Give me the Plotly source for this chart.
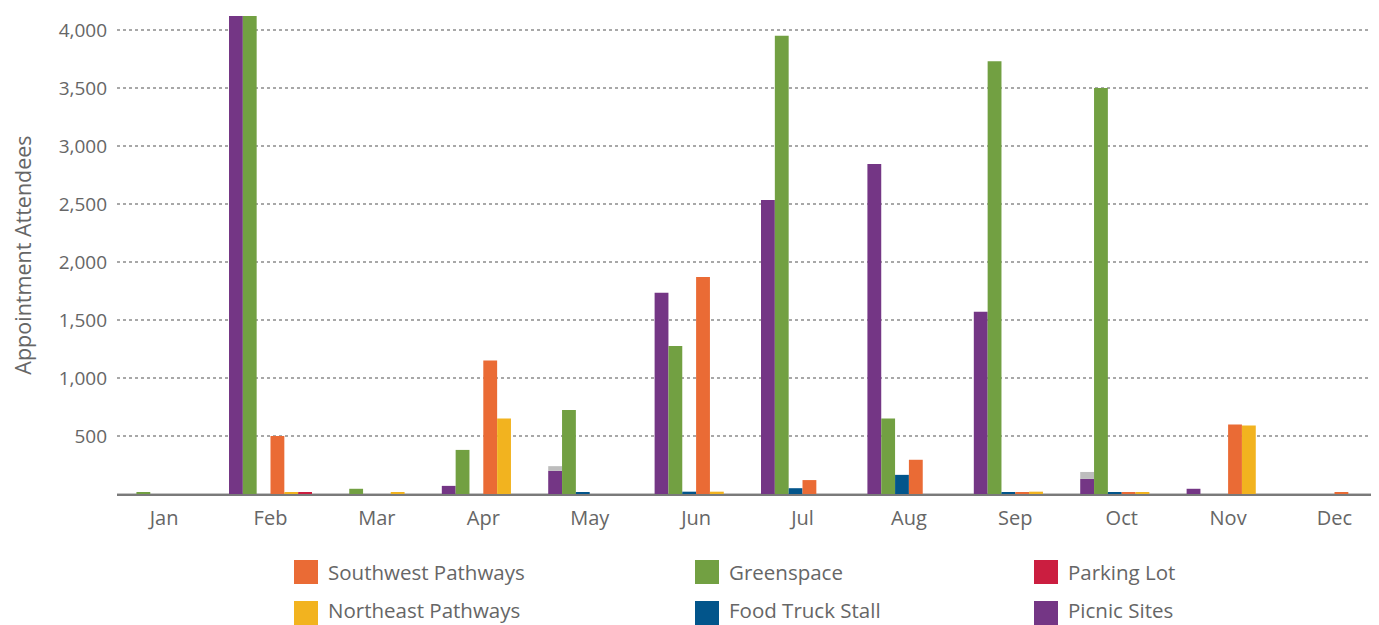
import plotly.graph_objects as go

months = ["Jan", "Feb", "Mar", "Apr", "May", "Jun", "Jul", "Aug", "Sep", "Oct", "Nov", "Dec"]

picnic_sites = [0, 4200, 0, 70, 200, 1735, 2535, 2845, 1570, 130, 45, 0]
other_grey = [0, 0, 0, 0, 40, 0, 0, 0, 0, 60, 0, 0]
greenspace = [15, 4200, 45, 380, 725, 1275, 3950, 650, 3730, 3500, 0, 0]
food_truck = [0, 0, 0, 0, 12, 20, 50, 165, 12, 12, 0, 0]
southwest = [0, 500, 0, 1150, 0, 1870, 120, 295, 12, 12, 600, 12]
northeast = [0, 12, 10, 650, 0, 20, 0, 0, 20, 10, 590, 0]
parking = [0, 15, 0, 0, 0, 0, 0, 0, 0, 0, 0, 0]

y_ticks = [500, 1000, 1500, 2000, 2500, 3000, 3500, 4000]

C_PURPLE = "#743685"
C_GREY = "#BDBDBD"
C_GREEN = "#72A042"
C_BLUE = "#02558B"
C_ORANGE = "#EA6B35"
C_YELLOW = "#F2B31F"
C_RED = "#CB1E40"

FONT = "Open Sans"
TXT = "#666666"

# page body has an 8px margin; work in absolute page pixels then convert
OFF = 8
W, H = 1379 - OFF, 625 - OFF
PLOT_L, PLOT_R, PLOT_T, PLOT_B = 117, 1376, 16, 494  # absolute page pixels
ML = PLOT_L - OFF
MR = W - (PLOT_R - OFF)
MT = PLOT_T - OFF
MB = H - (PLOT_B - OFF)
PW = PLOT_R - PLOT_L
PH = PLOT_B - PLOT_T

fig = go.Figure()

def add_bar(name, vals, color, og, base=None):
    fig.add_trace(go.Bar(
        x=months, y=vals, name=name, marker=dict(color=color, line=dict(width=0)),
        offsetgroup=og, base=base, showlegend=False, hoverinfo="x+y+name",
    ))

add_bar("Picnic Sites", picnic_sites, C_PURPLE, "1")
add_bar("Other", other_grey, C_GREY, "1", base=picnic_sites)
add_bar("Greenspace", greenspace, C_GREEN, "2")
add_bar("Food Truck Stall", food_truck, C_BLUE, "3")
add_bar("Southwest Pathways", southwest, C_ORANGE, "4")
add_bar("Northeast Pathways", northeast, C_YELLOW, "5")
add_bar("Parking Lot", parking, C_RED, "6")

# manual legend (absolute pixel helpers -> paper coords)
def px_x(p):
    return (p - PLOT_L) / PW

def px_y(p):
    return (PLOT_B - p) / PH

legend_items = [
    ("Southwest Pathways", C_ORANGE, 294, 572, 572),
    ("Greenspace", C_GREEN, 695, 572, 572),
    ("Parking Lot", C_RED, 1034, 572, 572),
    ("Northeast Pathways", C_YELLOW, 294, 613, 610),
    ("Food Truck Stall", C_BLUE, 695, 613, 610),
    ("Picnic Sites", C_PURPLE, 1034, 613, 610),
]
shapes = []
annotations = []
for label, color, lx, ly, ty in legend_items:
    shapes.append(dict(type="rect", xref="paper", yref="paper",
                       x0=px_x(lx), x1=px_x(lx + 24), y0=px_y(ly - 12), y1=px_y(ly + 12),
                       fillcolor=color, line=dict(width=0), layer="above"))
    annotations.append(dict(text=label, xref="paper", yref="paper", x=px_x(lx + 32), y=px_y(ty),
                            xanchor="left", yanchor="middle", showarrow=False,
                            font=dict(family=FONT, size=20.5, color=TXT)))

fig.update_layout(
    width=W, height=H,
    margin=dict(l=ML, r=MR, t=MT, b=MB, pad=0),
    paper_bgcolor="white", plot_bgcolor="white",
    barmode="group", bargap=0.22, bargroupgap=0,
    showlegend=False,
    font=dict(family=FONT, color=TXT),
    shapes=shapes, annotations=annotations,
    xaxis=dict(
        range=[-0.4427, 11.39], showgrid=False, zeroline=False,
        showline=True, linecolor="#7a7a7a", linewidth=2,
        ticks="", tickfont=dict(family=FONT, size=20, color=TXT),
        ticklabelstandoff=5,
    ),
    yaxis=dict(
        range=[0, 4120], tickvals=y_ticks, tickformat=",",
        showgrid=True, gridcolor="#a8a8a8", griddash="dot", gridwidth=1.5,
        zeroline=True, zerolinecolor="#c4c4c4", zerolinewidth=2,
        showline=False, ticks="", ticklabelstandoff=9,
        tickfont=dict(family=FONT, size=19, color=TXT),
        title=dict(text="Appointment Attendees", font=dict(family=FONT, size=21.5, color=TXT), standoff=24),
    ),
)

fig.write_html("out.html")
